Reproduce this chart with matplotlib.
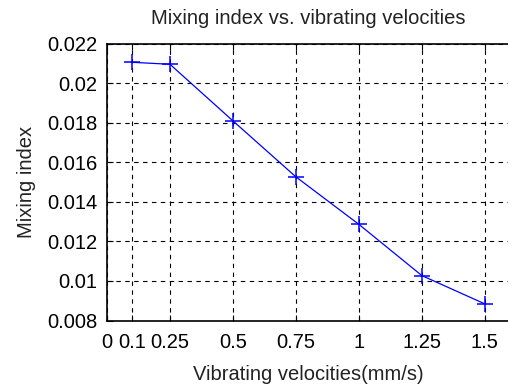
import matplotlib
matplotlib.use("Agg")
import matplotlib.pyplot as plt

# vibrating velocity (mm/s) and the resulting mixing index
velocities = [0.1, 0.25, 0.5, 0.75, 1.0, 1.25, 1.5]
mixing_index = [0.02105, 0.02095, 0.01809, 0.01526, 0.01286, 0.01027, 0.00884]

x_ticks = [0, 0.1, 0.25, 0.5, 0.75, 1, 1.25, 1.5]
x_labels = ['0', '0.1', '0.25', '0.5', '0.75', '1', '1.25', '1.5']
y_ticks = [0.008, 0.01, 0.012, 0.014, 0.016, 0.018, 0.02, 0.022]
y_labels = ['0.008', '0.01', '0.012', '0.014', '0.016', '0.018', '0.02', '0.022']

plt.rcParams['font.family'] = ['Liberation Sans Narrow', 'Liberation Sans', 'DejaVu Sans']

W, H = 508, 389
fig = plt.figure(figsize=(W / 100, H / 100), dpi=100)
ax = fig.add_axes([107 / W, 1 - 320.5 / H, 403 / W, (320.5 - 43.5) / H])

ax.plot(velocities, mixing_index, color='blue', linewidth=0.9,
        marker='+', markersize=12, markeredgewidth=1.1)

ax.set_xlim(0, 1.6)
ax.set_ylim(0.008, 0.022)
ax.set_xticks(x_ticks)
ax.set_xticklabels(x_labels, fontsize=14.5)
ax.set_yticks(y_ticks)
ax.set_yticklabels(y_labels, fontsize=14.5)
ax.tick_params(direction='in', length=4, width=0.8, top=True)
ax.tick_params(axis='x', pad=9)
ax.tick_params(axis='y', pad=7)

ax.grid(True, color='black', linestyle=(0, (4, 4)), linewidth=0.8)
for side in ['left', 'bottom', 'top']:
    ax.spines[side].set_linewidth(1.2)
ax.spines['right'].set_visible(False)

ax.set_title('Mixing index vs. vibrating velocities', fontsize=14.5, color='#222222', pad=14)
ax.set_xlabel('Vibrating velocities(mm/s)', fontsize=14.5, color='#222222', labelpad=9)
ax.set_ylabel('Mixing index', fontsize=14.5, color='#222222', labelpad=8)

fig.savefig('out.png', dpi=100)
